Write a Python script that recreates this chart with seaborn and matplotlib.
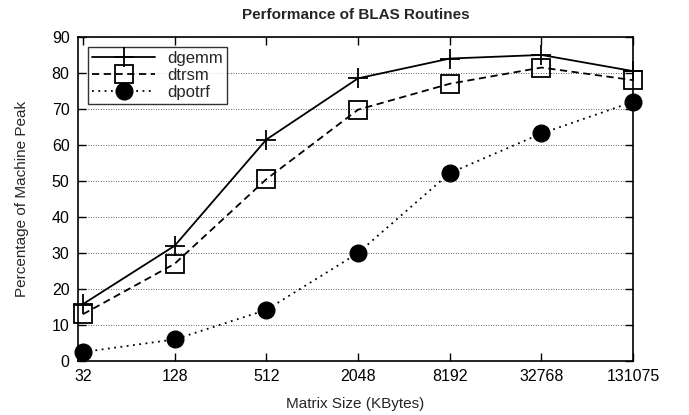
import matplotlib
matplotlib.use("Agg")
import matplotlib.pyplot as plt
import seaborn as sns
import pandas as pd

sizes = ["32", "128", "512", "2048", "8192", "32768", "131075"]
dgemm = [15.8, 32.0, 61.5, 78.5, 84.0, 85.0, 80.5]
dtrsm = [13.0, 27.0, 50.5, 69.8, 77.0, 81.5, 78.0]
dpotrf = [2.5, 6.0, 14.2, 30.0, 52.2, 63.2, 72.0]
series_names = ["dgemm", "dtrsm", "dpotrf"]

sns.set_theme(style="ticks")
plt.rcParams["font.family"] = ["Liberation Sans", "DejaVu Sans"]

rows = []
for name, vals in zip(series_names, [dgemm, dtrsm, dpotrf]):
    for i, v in enumerate(vals):
        rows.append({"pos": i, "value": v, "routine": name})
df = pd.DataFrame(rows)

fig = plt.figure(figsize=(6.89, 4.15), dpi=100)
ax = fig.add_axes([0.113, 0.130, 0.806, 0.781])

styles = {
    "dgemm": dict(marker="+", ls="-", ms=14, mfc="black", mew=1.3),
    "dtrsm": dict(marker="s", ls=(0, (4, 2.5)), ms=13, mfc="none", mew=1.3),
    "dpotrf": dict(marker="o", ls=(0, (1, 2.5)), ms=12, mfc="black", mew=1.0),
}
for name in series_names:
    sub = df[df["routine"] == name]
    st = styles[name]
    sns.lineplot(data=sub, x="pos", y="value", ax=ax, color="black", lw=1.3,
                 marker=st["marker"], linestyle=st["ls"], markersize=st["ms"],
                 markerfacecolor=st["mfc"], markeredgecolor="black",
                 markeredgewidth=st["mew"], label=name, zorder=3, clip_on=False)

ax.set_xlim(-0.055, 6.0)
ax.set_ylim(0, 90)
ax.set_xticks(range(len(sizes)))
ax.set_xticklabels(sizes)
ax.set_yticks(range(0, 91, 10))
ax.yaxis.grid(True, linestyle=(0, (1, 2)), color="#333333", lw=0.6)
ax.xaxis.grid(False)
ax.tick_params(direction="in", length=6, width=1, top=True, right=True,
               labelsize=11.5, colors="black", pad=6)
for sp in ax.spines.values():
    sp.set_visible(True)
    sp.set_color("black")
    sp.set_linewidth(1.2)

ax.set_xlabel("Matrix Size (KBytes)", fontsize=11, labelpad=9)
ax.set_ylabel("Percentage of Machine Peak", fontsize=11, labelpad=16)
ax.set_title("Performance of BLAS Routines", fontsize=11, fontweight="bold", pad=13)

leg = ax.legend(loc="upper left", bbox_to_anchor=(0.003, 0.995), frameon=True,
                fancybox=False, edgecolor="black", fontsize=12, handlelength=3.8,
                borderpad=0.25, labelspacing=0.12, handletextpad=0.7,
                borderaxespad=0.5)
leg.get_frame().set_linewidth(1.0)

fig.savefig("out.png", dpi=100)
